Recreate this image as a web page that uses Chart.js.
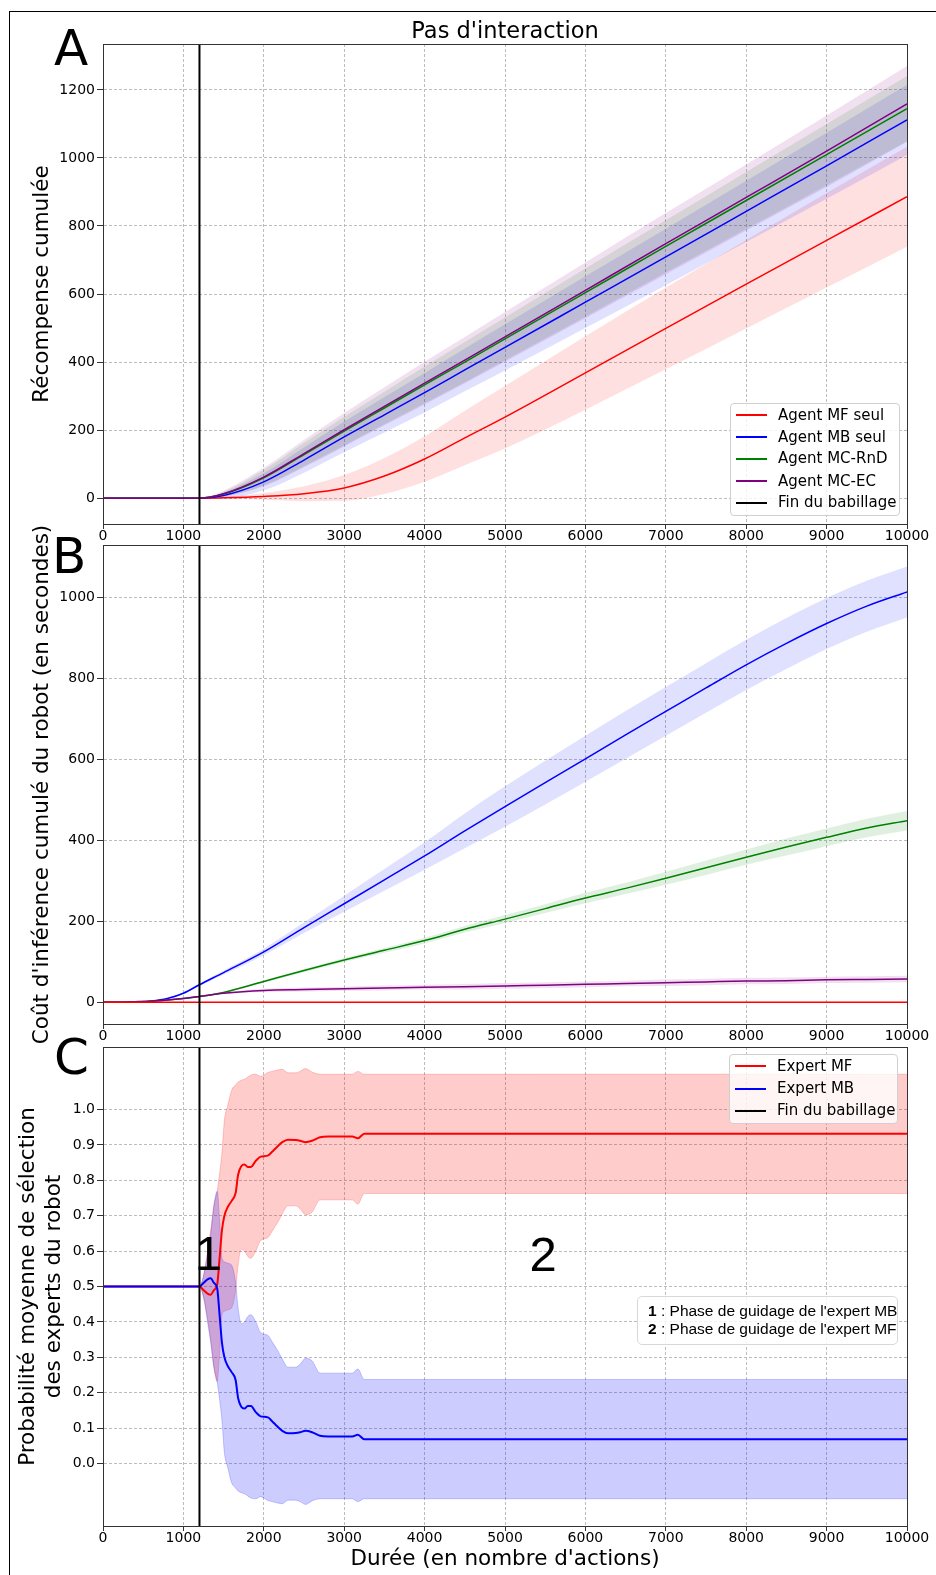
<!DOCTYPE html>
<html>
<head>
<meta charset="utf-8">
<script src="https://cdn.jsdelivr.net/npm/chart.js@4.4.0/dist/chart.umd.min.js"></script>
<style>
  html, body { margin: 0; padding: 0; background: #fff; }
  body { width: 936px; height: 1575px; position: relative; overflow: hidden; font-family: "DejaVu Sans", sans-serif; }
  canvas.panel { position: absolute; left: 0; top: 0; }
  .frame { position: absolute; left: 9px; top: 11px; width: 960px; height: 1600px; border-left: 1px solid #000; border-top: 1px solid #000; }
  .txt { position: absolute; white-space: nowrap; line-height: 1; color: #000; }
  .big { font-size: 50px; }
  .num { font-family: "Liberation Sans", Arial, sans-serif; font-size: 49px; }
  .legend { position: absolute; background: rgba(255,255,255,0.8); border: 1px solid #cfcfcf; border-radius: 4px; box-sizing: border-box; }
  .legend .sw { position: absolute; left: 5px; width: 31px; height: 2px; }
  .legend .lb { position: absolute; font-size: 15px; line-height: 1; white-space: nowrap; color: #000; }
  .phase { position: absolute; left: 637px; top: 1296px; width: 261px; height: 49px; box-sizing: border-box;
           background: rgba(255,255,255,0.8); border: 1px solid #d8d8d8; border-radius: 5px;
           font-family: "Liberation Sans", Arial, sans-serif; font-size: 15.5px; line-height: 18.3px; padding: 5px 0 0 10px; white-space: nowrap; }
</style>
</head>
<body>
<canvas id="chartA" class="panel" width="936" height="1575"></canvas>
<canvas id="chartB" class="panel" width="936" height="1575"></canvas>
<canvas id="chartC" class="panel" width="936" height="1575"></canvas>
<div class="frame"></div>
<div class="txt" style="left:103px; width:804px; top:18.7px; font-size:22.5px; text-align:center;">Pas d'interaction</div>
<div class="txt big" style="left:54px; top:22.7px;">A</div>
<div class="txt big" style="left:52px; top:531px;">B</div>
<div class="txt big" style="left:54px; top:1031.7px;">C</div>
<div class="txt num" style="left:194.7px; top:1228.5px;">1</div>
<div class="txt num" style="left:529.5px; top:1229.5px;">2</div>
<div id="legendA" class="legend" style="left:730px; top:403px; width:170px; height:113px;"></div>
<div id="legendC" class="legend" style="left:729px; top:1054px; width:169px; height:70px;"></div>
<div class="phase"><b>1</b> : Phase de guidage de l'expert MB<br><b>2</b> : Phase de guidage de l'expert MF</div>
<script>
// shared x axis
const xTicks = [0, 1000, 2000, 3000, 4000, 5000, 6000, 7000, 8000, 9000, 10000];
const babillageX = 1200;

// A : récompense cumulée
const aX = [0, 1200, 1500, 2000, 2500, 3000, 3500, 4000, 4500, 5000, 6000, 7000, 8000, 9000, 10000];
const aMFMean = [0, 0, 1, 5, 13, 30, 65, 115, 177, 238, 368, 499, 629, 758, 886];
const aMFUp = [0, 0, 4, 15, 35, 68, 118, 182, 257, 330, 476, 619, 759, 897, 1033];
const aMFLow = [0, 0, -2, -5, -9, -8, 12, 48, 97, 146, 260, 379, 499, 619, 739];
const aMBMean = [0, 0, 8, 48, 112, 180, 245, 310, 377, 443, 576, 709, 843, 977, 1112];
const aMBUp = [0, 0, 16, 73, 149, 225, 297, 368, 440, 511, 652, 792, 933, 1074, 1215];
const aMBLow = [0, 0, 0, 23, 75, 135, 193, 252, 314, 375, 500, 626, 753, 880, 1009];
const aRnDMean = [0, 0, 12, 60, 128, 197, 265, 333, 400, 468, 604, 740, 875, 1010, 1145];
const aRnDUp = [0, 0, 19, 83, 162, 239, 313, 387, 459, 531, 675, 817, 959, 1100, 1241];
const aRnDLow = [0, 0, 5, 37, 94, 155, 217, 279, 341, 405, 533, 663, 791, 920, 1049];
const aECMean = [0, 0, 13, 62, 131, 201, 270, 338, 406, 474, 611, 748, 884, 1020, 1159];
const aECUp = [0, 0, 22, 89, 171, 250, 326, 401, 474, 547, 693, 838, 981, 1125, 1270];
const aECLow = [0, 0, 4, 35, 91, 152, 214, 275, 338, 401, 529, 658, 787, 915, 1048];
const aYTicks = [0, 200, 400, 600, 800, 1000, 1200];
const aYRange = [-76, 1335];

// B : coût d'inférence
const bX = [0, 200, 400, 600, 800, 1000, 1200, 1500, 2000, 2500, 3000, 3500, 4000, 4500, 5000, 5500, 6000, 6500, 7000, 7500, 8000, 8500, 9000, 9500, 10000];
const bMBMean = [0, 0, 1, 3, 9, 22, 43, 73, 124, 184, 243, 302, 361, 423, 483, 542, 601, 660, 718, 776, 833, 886, 935, 978, 1013];
const bMBUp = [0, 0, 1, 3, 10, 24, 46, 78, 132, 197, 263, 329, 395, 466, 533, 596, 658, 719, 778, 837, 895, 949, 998, 1041, 1076];
const bMBLow = [0, 0, 1, 3, 8, 20, 40, 68, 116, 171, 223, 275, 327, 380, 433, 488, 544, 601, 658, 715, 771, 823, 872, 915, 950];
const bRnDMean = [0, 0, 1, 2, 5, 9, 14, 24, 51, 78, 104, 128, 152, 180, 205, 231, 257, 281, 306, 332, 358, 383, 407, 430, 448];
const bRnDUp = [0, 0, 1, 2, 5, 10, 15, 26, 54, 82, 109, 134, 159, 188, 215, 242, 270, 295, 322, 350, 377, 404, 429, 453, 472];
const bRnDLow = [0, 0, 1, 2, 5, 8, 13, 22, 48, 74, 99, 122, 145, 172, 195, 220, 244, 267, 290, 314, 339, 362, 385, 407, 424];
const bECMean = [0, 0, 1, 2, 5, 9, 14, 22, 29, 31, 33, 35, 37, 38, 40, 42, 44, 46, 48, 50, 52, 53, 55, 56, 57];
const bECUp = [0, 0, 1, 2, 5, 10, 15, 24, 33, 36, 38, 41, 43, 45, 47, 49, 51, 53, 56, 58, 60, 61, 63, 64, 65];
const bECLow = [0, 0, 1, 2, 5, 8, 13, 20, 25, 26, 28, 29, 31, 31, 33, 35, 37, 39, 40, 42, 44, 45, 47, 48, 49];
const bMFX = [0, 10000];
const bMFMean = [0, 0];
const bYTicks = [0, 200, 400, 600, 800, 1000];
const bYRange = [-54, 1129];

// C : probabilité de sélection des experts
const cX = [0, 1200, 1250, 1300, 1340, 1380, 1420, 1450, 1480, 1510, 1550, 1600, 1650, 1680, 1720, 1760, 1800, 1840, 1900, 1960,
  2050, 2100, 2170, 2230, 2300, 2400, 2450, 2520, 2600, 2700, 2800, 3100, 3170, 3250, 10000];
const cMFMean = [0.5, 0.5, 0.49, 0.48, 0.477, 0.49, 0.505, 0.58, 0.66, 0.70, 0.724, 0.742, 0.765, 0.815, 0.84, 0.845, 0.838, 0.838, 0.855, 0.867,
  0.87, 0.88, 0.896, 0.908, 0.915, 0.914, 0.912, 0.908, 0.912, 0.922, 0.924, 0.924, 0.919, 0.932, 0.932];
const cMFUp = [0.5, 0.5, 0.53, 0.6, 0.66, 0.73, 0.77, 0.82, 0.88, 0.97, 1.01, 1.055, 1.07, 1.078, 1.083, 1.086, 1.092, 1.098, 1.1, 1.094,
  1.105, 1.108, 1.112, 1.114, 1.104, 1.104, 1.108, 1.116, 1.106, 1.1, 1.1, 1.1, 1.108, 1.1, 1.1];
const cMFLow = [0.5, 0.5, 0.47, 0.41, 0.35, 0.27, 0.231, 0.31, 0.42, 0.43, 0.434, 0.44, 0.49, 0.56, 0.605, 0.6, 0.585, 0.58, 0.6, 0.63,
  0.638, 0.655, 0.68, 0.705, 0.728, 0.728, 0.72, 0.703, 0.71, 0.745, 0.745, 0.745, 0.733, 0.763, 0.763];
const cMBMean = [0.5, 0.5, 0.51, 0.52, 0.523, 0.51, 0.495, 0.42, 0.34, 0.30, 0.276, 0.258, 0.235, 0.185, 0.16, 0.155, 0.162, 0.162, 0.145, 0.133,
  0.13, 0.12, 0.104, 0.092, 0.085, 0.086, 0.088, 0.092, 0.088, 0.078, 0.076, 0.076, 0.081, 0.068, 0.068];
const cMBUp = [0.5, 0.5, 0.53, 0.59, 0.65, 0.73, 0.769, 0.69, 0.58, 0.57, 0.566, 0.56, 0.51, 0.44, 0.395, 0.4, 0.415, 0.42, 0.4, 0.37,
  0.362, 0.345, 0.32, 0.295, 0.272, 0.272, 0.28, 0.297, 0.29, 0.255, 0.255, 0.255, 0.267, 0.237, 0.237];
const cMBLow = [0.5, 0.5, 0.47, 0.4, 0.34, 0.27, 0.23, 0.18, 0.12, 0.03, -0.01, -0.055, -0.07, -0.078, -0.083, -0.086, -0.092, -0.098, -0.1, -0.094,
  -0.105, -0.108, -0.112, -0.114, -0.104, -0.104, -0.108, -0.116, -0.106, -0.1, -0.1, -0.1, -0.108, -0.1, -0.1];
const cYTicks = [0, 0.1, 0.2, 0.3, 0.4, 0.5, 0.6, 0.7, 0.8, 0.9, 1.0];
const cYRange = [-0.177, 1.177];

const legendALabels = ['Agent MF seul', 'Agent MB seul', 'Agent MC-RnD', 'Agent MC-EC', 'Fin du babillage'];
const legendCLabels = ['Expert MF', 'Expert MB', 'Fin du babillage'];

const RED = '#ff0000', BLUE = '#0000ff', GREEN = '#008000', PURPLE = '#800080', BLACK = '#000000';

Chart.defaults.font.family = 'DejaVu Sans';

const pts = (xs, ys) => xs.map((x, i) => ({ x: x, y: ys[i] }));

function meanLine(xs, ys, color, width) {
  return { data: pts(xs, ys), borderColor: color, borderWidth: width, pointRadius: 0, fill: false, cubicInterpolationMode: 'monotone' };
}

function band(xs, up, low, fillColor, edgeColor) {
  const edge = edgeColor || 'rgba(0,0,0,0)';
  const w = edgeColor ? 1 : 0;
  return [
    { data: pts(xs, up), borderColor: edge, borderWidth: w, backgroundColor: fillColor, pointRadius: 0, fill: '+1', cubicInterpolationMode: 'monotone' },
    { data: pts(xs, low), borderColor: edge, borderWidth: w, pointRadius: 0, fill: false, cubicInterpolationMode: 'monotone' },
  ];
}

function vline(range) {
  return { data: [{ x: babillageX, y: range[0] }, { x: babillageX, y: range[1] }], borderColor: BLACK, borderWidth: 2, pointRadius: 0, fill: false };
}

const framePlugin = {
  id: 'frame',
  afterDraw(chart) {
    const { ctx, chartArea: a } = chart;
    ctx.save();
    ctx.strokeStyle = '#333';
    ctx.lineWidth = 1;
    ctx.strokeRect(a.left + 0.5, a.top + 0.5, a.right - a.left, a.bottom - a.top);
    ctx.restore();
  },
};

function makeScales(p) {
  const tickFont = { family: 'DejaVu Sans', size: 14 };
  const titleFont = { family: 'DejaVu Sans', size: 21.5, lineHeight: 1.2 };
  return {
    x: {
      type: 'linear', min: 0, max: 10000,
      afterBuildTicks: (ax) => { ax.ticks = xTicks.map((v) => ({ value: v })); },
      afterFit: (ax) => { ax.height = p.xHeight; },
      ticks: { callback: (v) => String(v), font: tickFont, color: '#000', padding: -1, maxRotation: 0, autoSkip: false },
      grid: { color: '#bdbdbd', lineWidth: 1, tickLength: 5, tickColor: '#333', tickBorderDash: [] },
      border: { display: true, color: '#333', width: 1, dash: [3, 2] },
      title: p.xTitle
        ? { display: true, text: p.xTitle, font: titleFont, color: '#000', padding: { top: 0, bottom: 2.6 } }
        : { display: false },
    },
    y: {
      type: 'linear', min: p.yRange[0], max: p.yRange[1],
      afterBuildTicks: (ax) => { ax.ticks = p.yTicks.map((v) => ({ value: v })); },
      afterFit: (ax) => { ax.width = 103; },
      ticks: { callback: p.yFmt, font: tickFont, color: '#000', padding: 2 },
      grid: { color: '#bdbdbd', lineWidth: 1, tickLength: 6, tickColor: '#333', tickBorderDash: [] },
      border: { display: true, color: '#333', width: 1, dash: [3, 2] },
      title: { display: true, text: p.yTitle, font: titleFont, color: '#000', padding: { top: p.yTitlePad, bottom: 0 } },
    },
  };
}

function makeChart(id, datasets, p) {
  return new Chart(document.getElementById(id), {
    type: 'line',
    data: { datasets: datasets },
    options: {
      responsive: false,
      animation: false,
      devicePixelRatio: 1,
      events: [],
      layout: { padding: { left: 0, right: 29, top: p.top, bottom: p.bottom } },
      plugins: { legend: { display: false }, tooltip: { enabled: false } },
      scales: makeScales(p),
    },
    plugins: [framePlugin],
  });
}

function buildLegend(id, labels, colors, rows) {
  const box = document.getElementById(id);
  labels.forEach((lab, i) => {
    const sw = document.createElement('div');
    sw.className = 'sw';
    sw.style.top = (rows[i] - 1) + 'px';
    sw.style.background = colors[i];
    box.appendChild(sw);
    const t = document.createElement('div');
    t.className = 'lb';
    t.style.left = '47px';
    t.style.top = (rows[i] - 7.5) + 'px';
    t.textContent = lab;
    box.appendChild(t);
  });
}

function createCharts() {
  const alpha = 0.12;
  makeChart('chartA', [
    vline(aYRange),
    meanLine(aX, aECMean, PURPLE, 1.5),
    meanLine(aX, aRnDMean, GREEN, 1.5),
    meanLine(aX, aMBMean, BLUE, 1.5),
    meanLine(aX, aMFMean, RED, 1.5),
    ...band(aX, aECUp, aECLow, `rgba(128,0,128,${alpha})`),
    ...band(aX, aRnDUp, aRnDLow, `rgba(0,128,0,${alpha})`),
    ...band(aX, aMBUp, aMBLow, `rgba(0,0,255,${alpha})`),
    ...band(aX, aMFUp, aMFLow, `rgba(255,0,0,${alpha})`),
  ], {
    top: 44, bottom: 1030, xHeight: 21,
    yRange: aYRange, yTicks: aYTicks, yFmt: (v) => String(v),
    yTitle: 'Récompense cumulée', yTitlePad: 29.6,
  });

  makeChart('chartB', [
    vline(bYRange),
    meanLine(bMFX, bMFMean, RED, 1.5),
    meanLine(bX, bECMean, PURPLE, 1.5),
    meanLine(bX, bRnDMean, GREEN, 1.5),
    meanLine(bX, bMBMean, BLUE, 1.5),
    ...band(bX, bECUp, bECLow, `rgba(128,0,128,${alpha})`),
    ...band(bX, bRnDUp, bRnDLow, `rgba(0,128,0,${alpha})`),
    ...band(bX, bMBUp, bMBLow, `rgba(0,0,255,${alpha})`),
  ], {
    top: 545, bottom: 528, xHeight: 23,
    yRange: bYRange, yTicks: bYTicks, yFmt: (v) => String(v),
    yTitle: "Coût d'inférence cumulé du robot (en secondes)", yTitlePad: 29.6,
  });

  makeChart('chartC', [
    vline(cYRange),
    meanLine(cX, cMBMean, BLUE, 2),
    meanLine(cX, cMFMean, RED, 2),
    ...band(cX, cMBUp, cMBLow, 'rgba(0,0,255,0.2)', 'rgba(0,0,255,0.2)'),
    ...band(cX, cMFUp, cMFLow, 'rgba(255,0,0,0.2)', 'rgba(255,0,0,0.2)'),
  ], {
    top: 1047, bottom: 0, xHeight: 49,
    yRange: cYRange, yTicks: cYTicks, yFmt: (v) => v.toFixed(1),
    yTitle: ['Probabilité moyenne de sélection', 'des experts du robot'], yTitlePad: 15.3,
    xTitle: "Durée (en nombre d'actions)",
  });

  buildLegend('legendA', legendALabels, [RED, BLUE, GREEN, PURPLE, BLACK], [11.3, 33, 54.7, 77, 98.7]);
  buildLegend('legendC', legendCLabels, [RED, BLUE, BLACK], [11, 33.5, 55.5]);
}

document.addEventListener('DOMContentLoaded', createCharts);
</script>
</body>
</html>
